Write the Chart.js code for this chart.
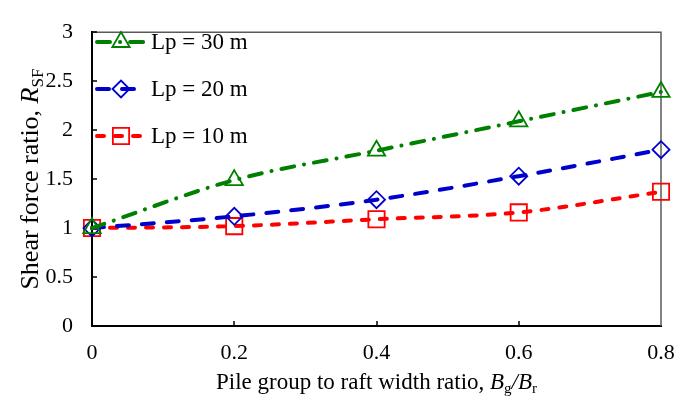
<!DOCTYPE html>
<html>
<head>
  <meta charset="UTF-8">
  <title>Shear force ratio vs pile group to raft width ratio</title>
  <style type="text/css">
    html, body { margin: 0; padding: 0; background: #fff; }
    #chart-container { width: 690px; height: 405px; }
  </style>
  <script type="text/javascript" src="https://cdn.jsdelivr.net/npm/chart.js@4.4.1/dist/chart.umd.min.js"></script>
</head>
<body>
<div id="chart-container">
  <canvas id="mycanvas" width="690" height="405"></canvas>
</div>
<script>
// data
var widthRatio = [0, 0.2, 0.4, 0.6, 0.8];
var lp30 = [1.0, 1.49, 1.79, 2.09, 2.39];
var lp20 = [1.0, 1.12, 1.29, 1.53, 1.8];
var lp10 = [1.0, 1.02, 1.09, 1.16, 1.37];
var seriesNames = ['Lp = 30 m', 'Lp = 20 m', 'Lp = 10 m'];
var xTicks = [0, 0.2, 0.4, 0.6, 0.8];
var yTicks = [0, 0.5, 1, 1.5, 2, 2.5, 3];

var FONT = "'Liberation Serif', 'Times New Roman', serif";

function pts(ys) {
  var out = [];
  for (var i in widthRatio) out.push({ x: widthRatio[i], y: ys[i] });
  return out;
}

var styles = [
  { color: '#008000', dash: [13, 10, 0.1, 10], point: 'triangle', radius: 10 },
  { color: '#0000CC', dash: [12, 13], point: 'rectRot', radius: 8.5 },
  { color: '#FF0000', dash: [7, 11], point: 'rect', radius: 11.5 }
];
var values = [lp30, lp20, lp10];

var datasets = [];
for (var s = 0; s < 3; s++) {
  datasets.push({
    label: seriesNames[s],
    data: pts(values[s]),
    showLine: true,
    borderColor: styles[s].color,
    borderWidth: 4,
    borderDash: styles[s].dash,
    borderCapStyle: 'round',
    tension: 0.3,
    cubicInterpolationMode: 'monotone',
    fill: false,
    pointStyle: styles[s].point,
    pointRadius: styles[s].radius,
    pointHoverRadius: styles[s].radius,
    pointBorderWidth: 1.8,
    pointBorderColor: styles[s].color,
    pointBackgroundColor: 'rgba(0,0,0,0)',
    clip: false
  });
}

// plot frame, inward ticks, legend, axis titles
var decor = {
  id: 'decor',
  beforeDatasetsDraw: function(chart) {
    var ctx = chart.ctx, a = chart.chartArea;
    ctx.save();
    ctx.strokeStyle = '#595959';
    ctx.lineWidth = 1.5;
    ctx.beginPath();
    ctx.moveTo(a.left, a.top);
    ctx.lineTo(a.right, a.top);
    ctx.lineTo(a.right, a.bottom);
    ctx.stroke();
    ctx.strokeStyle = '#000';
    ctx.lineWidth = 1.5;
    var xs = chart.scales.x, ys = chart.scales.y;
    ctx.beginPath();
    for (var i = 1; i < xTicks.length - 1; i++) {
      var px = Math.round(xs.getPixelForValue(xTicks[i]));
      ctx.moveTo(px, a.bottom);
      ctx.lineTo(px, a.bottom - 5);
    }
    for (var j = 1; j < yTicks.length; j++) {
      var py = Math.round(ys.getPixelForValue(yTicks[j]));
      ctx.moveTo(a.left, py);
      ctx.lineTo(a.left + 5, py);
    }
    ctx.stroke();
    ctx.restore();
  },
  afterDraw: function(chart) {
    var ctx = chart.ctx, a = chart.chartArea;
    ctx.save();
    // legend
    var legY = [42, 89, 136];
    for (var k = 0; k < 3; k++) {
      var st = styles[k], y = legY[k];
      ctx.strokeStyle = st.color;
      ctx.lineWidth = 4;
      ctx.lineCap = 'round';
      ctx.setLineDash(st.dash);
      ctx.beginPath();
      ctx.moveTo(97, y);
      ctx.lineTo(144, y);
      ctx.stroke();
      ctx.setLineDash([]);
      ctx.lineWidth = 1.8;
      ctx.fillStyle = 'rgba(0,0,0,0)';
      Chart.helpers.drawPoint(ctx, { pointStyle: st.point, radius: st.radius, borderWidth: 1.8 }, 121, y);
      ctx.fillStyle = '#000';
      ctx.font = '23px ' + FONT;
      ctx.textBaseline = 'middle';
      ctx.textAlign = 'left';
      ctx.fillText(seriesNames[k], 151, y + 1);
    }

    // x title: Pile group to raft width ratio, Bg/Br
    ctx.fillStyle = '#000';
    ctx.textBaseline = 'alphabetic';
    ctx.textAlign = 'left';
    var parts = [
      { t: 'Pile group to raft width ratio, ', f: '23px ' + FONT, dy: 0 },
      { t: 'B', f: 'italic 23px ' + FONT, dy: 0 },
      { t: 'g', f: '15px ' + FONT, dy: 4 },
      { t: '/', f: 'italic 23px ' + FONT, dy: 0 },
      { t: 'B', f: 'italic 23px ' + FONT, dy: 0 },
      { t: 'r', f: '15px ' + FONT, dy: 4 }
    ];
    drawParts(ctx, parts, (a.left + a.right) / 2, 389);

    // y title: Shear force ratio, RSF
    ctx.translate(38, (a.top + a.bottom) / 2);
    ctx.rotate(-Math.PI / 2);
    var yparts = [
      { t: 'Shear force ratio, ', f: '26px ' + FONT, dy: 0 },
      { t: 'R', f: 'italic 26px ' + FONT, dy: 0 },
      { t: 'SF', f: '17px ' + FONT, dy: 5 }
    ];
    drawParts(ctx, yparts, 0, 0);
    ctx.restore();
  }
};

function drawParts(ctx, parts, cx, baseY) {
  var total = 0;
  for (var i in parts) { ctx.font = parts[i].f; total += ctx.measureText(parts[i].t).width; }
  var x = cx - total / 2;
  for (var j in parts) {
    ctx.font = parts[j].f;
    ctx.fillText(parts[j].t, x, baseY + parts[j].dy);
    x += ctx.measureText(parts[j].t).width;
  }
}

function plainLabel(v) { return String(v); }

var ctx = document.getElementById('mycanvas');
var chart = new Chart(ctx, {
  type: 'scatter',
  data: { datasets: datasets },
  options: {
    responsive: false,
    animation: false,
    layout: { padding: { top: 16, right: 29, left: 0, bottom: 0 } },
    plugins: { legend: { display: false }, tooltip: { enabled: false } },
    scales: {
      x: {
        type: 'linear',
        min: 0,
        max: 0.8,
        afterBuildTicks: function(scale) { scale.ticks = xTicks.map(function(v) { return { value: v }; }); },
        afterFit: function(scale) { scale.height = 79; },
        grid: { display: false, drawTicks: false },
        border: { display: true, color: '#000', width: 2 },
        ticks: { color: '#000', padding: 14, font: { family: FONT, size: 22 }, callback: plainLabel }
      },
      y: {
        type: 'linear',
        min: 0,
        max: 3,
        afterBuildTicks: function(scale) { scale.ticks = yTicks.map(function(v) { return { value: v }; }); },
        afterFit: function(scale) { scale.width = 92; },
        grid: { display: false, drawTicks: false },
        border: { display: true, color: '#000', width: 2 },
        ticks: { color: '#000', padding: 19, font: { family: FONT, size: 22 }, callback: plainLabel }
      }
    }
  },
  plugins: [decor]
});
</script>
</body>
</html>
